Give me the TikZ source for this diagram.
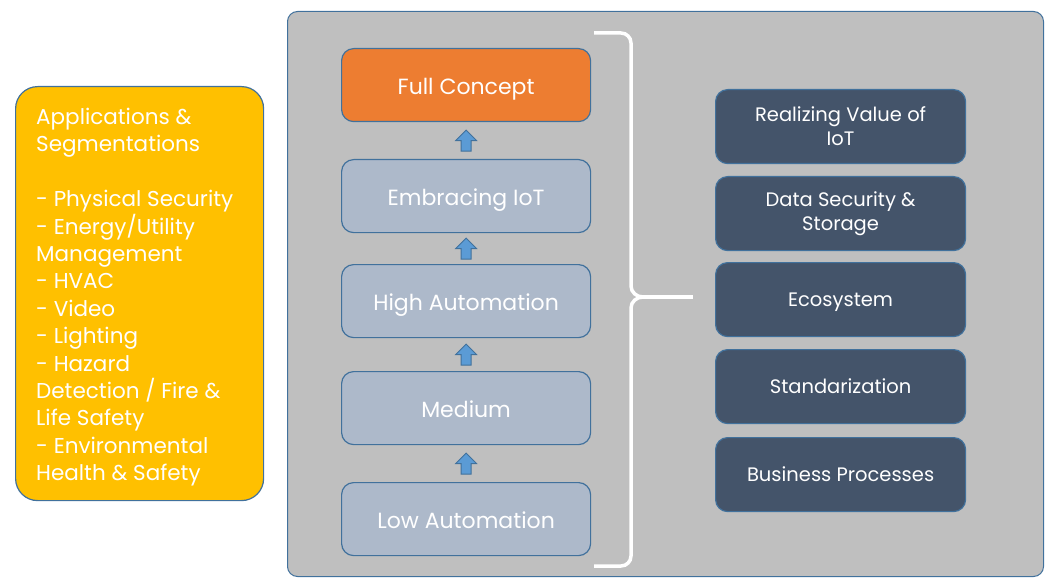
\documentclass[tikz,border=0pt]{standalone}
\usepackage{fontspec}
\setmainfont{Poppins}
\usetikzlibrary{calc}
\definecolor{yel}{HTML}{FFC000}
\definecolor{edge}{HTML}{41719C}
\definecolor{panel}{HTML}{BFBFBF}
\definecolor{orng}{HTML}{ED7D31}
\definecolor{lite}{HTML}{ADB9CA}
\definecolor{dark}{HTML}{44546A}
\definecolor{arr}{HTML}{5B9BD5}
\tikzset{
  stage/.style={draw=edge, line width=1.2pt, rounded corners=12pt, minimum width=249pt, minimum height=73pt, inner sep=0pt, text=white, text height=19pt, text depth=0pt, font=\fontsize{22}{26}\selectfont},
  topic/.style={draw=edge, line width=1.2pt, fill=dark, rounded corners=12pt, minimum width=250pt, minimum height=74pt, inner sep=0pt, text=white, align=center, font=\fontsize{19.5}{24}\selectfont},
  topicone/.style={topic, text height=13.8pt, text depth=0pt},
  blockarr/.style={draw=edge, line width=0.9pt, fill=arr, line join=miter},
  brace/.style={draw=white, line width=3.5pt}
}
\begin{document}
\begin{tikzpicture}[x=1pt,y=-1pt]
\useasboundingbox (0,0) rectangle (1046,580);
% left box
\node[draw=edge, line width=1.2pt, fill=yel, rounded corners=22pt, minimum width=248pt, minimum height=414pt, anchor=north west, inner sep=0pt] (apps) at (15,86) {};
\node[anchor=north west, inner sep=0pt, align=left, text=white, font=\fontsize{21.5}{27.4}\selectfont] (appstext) at (36,108) {Applications \&\\Segmentations\\[27.4pt]- Physical Security\\- Energy/Utility\\Management\\- HVAC\\- Video\\- Lighting\\- Hazard\\Detection / Fire \&\\Life Safety\\- Environmental\\Health \& Safety};
% panel
\node[draw=edge, line width=1pt, fill=panel, rounded corners=10pt, minimum width=756pt, minimum height=565pt, anchor=north west, inner sep=0pt] (panel) at (287,11) {};
% stages
\node[stage, fill=orng, anchor=north west] (full) at (341,48) {Full Concept};
\node[stage, fill=lite, anchor=north west] (embr) at (341,159) {Embracing IoT};
\node[stage, fill=lite, anchor=north west] (high) at (341,264) {High Automation};
\node[stage, fill=lite, anchor=north west] (med) at (341,371) {Medium};
\node[stage, fill=lite, anchor=north west] (low) at (341,482) {Low Automation};
% arrows
\foreach \a/\b in {embr/full, high/embr, med/high, low/med}{
  \begin{scope}[shift={($(\a.north)!0.5!(\b.south)$)}]
    \draw[blockarr] (-5,10.5) -- (-5,0) -- (-10.5,0) -- (0,-10.5) -- (10.5,0) -- (5,0) -- (5,10.5) -- cycle;
  \end{scope}
}
% topics
\node[topic, anchor=north west] (t1) at (715,89) {Realizing Value of\\IoT};
\node[topic, anchor=north west] (t2) at (715,176) {Data Security \&\\Storage};
\node[topicone, anchor=north west] (t3) at (715,262) {Ecosystem};
\node[topicone, anchor=north west] (t4) at (715,349) {Standarization};
\node[topicone, anchor=north west] (t5) at (715,437) {Business Processes};
% brace
\coordinate (btop) at (594,33);
\coordinate (bbot) at (594,566);
\coordinate (btip) at (693,297);
\draw[brace, line cap=butt] (btop) -- (621,33) to[out=0,in=90] (631,43) -- (631,286) to[out=-90,in=180] (643,297);
\draw[brace, line cap=butt] (bbot) -- (621,566) to[out=0,in=-90] (631,556) -- (631,308) to[out=90,in=180] (643,297);
\draw[brace, line cap=butt] (641,297) -- (btip);
\end{tikzpicture}
\end{document}
